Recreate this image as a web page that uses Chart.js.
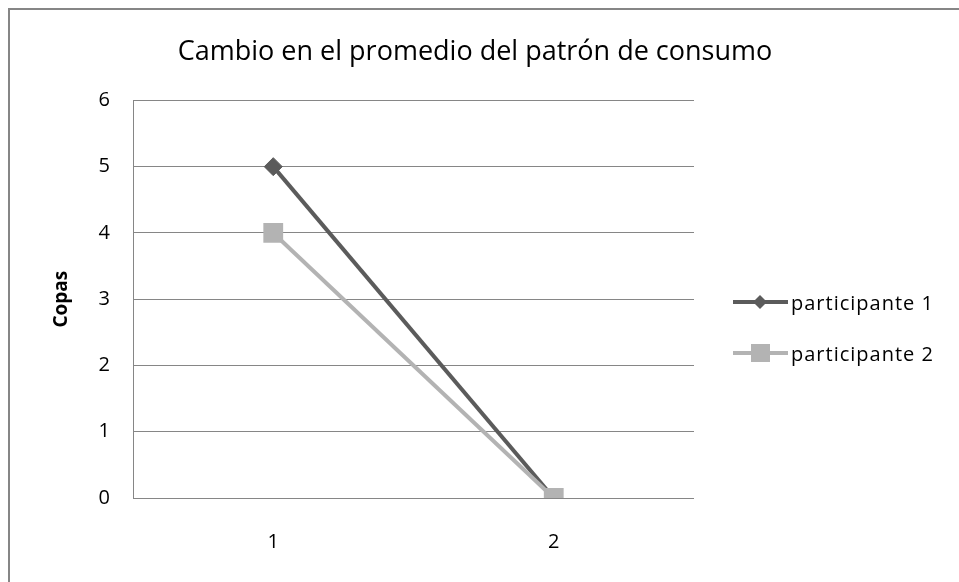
<!DOCTYPE html>
<html>
<head>
<meta charset="utf-8">
<script src="https://cdn.jsdelivr.net/npm/chart.js@4.4.1/dist/chart.umd.min.js"></script>
<style>
  html, body { margin: 0; padding: 0; background: #fff; }
  #frame {
    position: absolute; left: 8px; top: 8px; width: 960px; height: 580px;
    border-left: 2px solid #868686; border-top: 2px solid #868686;
    box-sizing: border-box;
  }
  #wrap { position: absolute; left: 10px; top: 10px; width: 930px; height: 572px; }
  #legend { position: absolute; left: 733px; top: 288px; font-family: "Open Sans", "Liberation Sans", sans-serif; font-size: 20px; letter-spacing: 1px; color: #000; }
  .item { display: flex; align-items: center; height: 28px; margin-bottom: 23px; }
  .swatch { width: 55px; height: 22px; margin-right: 3px; }
</style>
</head>
<body>
<div id="frame"></div>
<div id="wrap"><canvas id="c" width="930" height="572"></canvas></div>
<div id="legend"></div>
<script>
// Average drinks per session, two participants, two measurement points
const categories = ['1', '2'];
const seriesNames = ['participante 1', 'participante 2'];
const participante1 = [5, 0];
const participante2 = [4, 0];
const yTicks = [0, 1, 2, 3, 4, 5, 6];

const darkGray = '#5b5b5b';
const lightGray = '#b3b3b3';
const gridGray = '#868686';
const fontFamily = '"Open Sans", "Liberation Sans", sans-serif';

new Chart(document.getElementById('c'), {
  type: 'line',
  data: {
    labels: categories,
    datasets: [
      {
        label: seriesNames[0],
        data: participante1,
        borderColor: darkGray,
        backgroundColor: darkGray,
        borderWidth: 4,
        pointStyle: 'rectRot',
        pointRadius: 9,
        pointBorderWidth: 1,
        tension: 0,
        order: 1
      },
      {
        label: seriesNames[1],
        data: participante2,
        borderColor: lightGray,
        backgroundColor: lightGray,
        borderWidth: 4,
        pointStyle: 'rect',
        pointRadius: 14,
        pointBorderWidth: 0,
        tension: 0,
        order: 0
      }
    ]
  },
  options: {
    responsive: false,
    animation: false,
    layout: { padding: 0 },
    plugins: {
      legend: { display: false },
      tooltip: { enabled: false },
      title: {
        display: true,
        text: 'Cambio en el promedio del patrón de consumo',
        color: '#000',
        font: { family: fontFamily, size: 27, weight: 'normal', lineHeight: 1.2 },
        padding: { top: 26, bottom: 32 }
      }
    },
    scales: {
      x: {
        offset: true,
        grid: { display: false },
        border: { display: false },
        ticks: { color: '#000', font: { family: fontFamily, size: 20 }, padding: 24 },
        afterFit: (s) => { s.height = 84; }
      },
      y: {
        min: 0,
        max: 6,
        afterBuildTicks: (s) => { s.ticks = yTicks.map(v => ({ value: v })); },
        grid: { color: gridGray, lineWidth: 1, drawTicks: false },
        border: { display: true, color: gridGray, width: 1 },
        ticks: { color: '#000', font: { family: fontFamily, size: 20 }, padding: 23 },
        title: {
          display: true,
          text: 'Copas',
          color: '#000',
          font: { family: fontFamily, size: 19, weight: 'bold' },
          padding: { top: 40, bottom: 0 }
        },
        afterFit: (s) => { s.width = 123; }
      },
      // empty right-hand axis that reserves the space used by the legend
      side: {
        position: 'right',
        display: true,
        grid: { display: false },
        border: { display: false },
        ticks: { display: false },
        afterFit: (s) => { s.width = 246; }
      }
    }
  }
});

// Legend: a short line with the series marker, then the series name
const markers = [
  `<svg class="swatch" viewBox="0 0 55 22"><line x1="0" y1="11" x2="55" y2="11" stroke="${darkGray}" stroke-width="4"/><polygon points="27,4 34,11 27,18 20,11" fill="${darkGray}"/></svg>`,
  `<svg class="swatch" viewBox="0 0 55 22"><line x1="0" y1="11" x2="55" y2="11" stroke="${lightGray}" stroke-width="4"/><rect x="18" y="2" width="19" height="18" fill="${lightGray}"/></svg>`
];
document.getElementById('legend').innerHTML = seriesNames
  .map((n, i) => `<div class="item">${markers[i]}<span>${n}</span></div>`)
  .join('');
</script>
</body>
</html>
